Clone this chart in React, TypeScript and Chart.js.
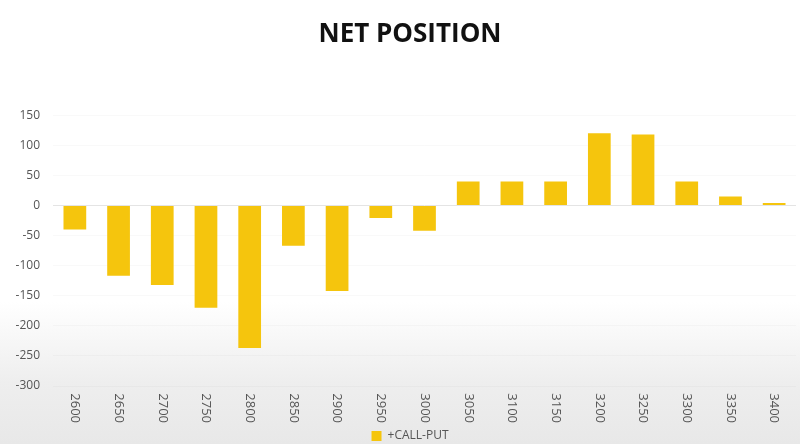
import React, { useEffect, useRef } from "react";
import { Chart, registerables } from "chart.js";

Chart.register(...registerables);

const strikes = ["2600", "2650", "2700", "2750", "2800", "2850", "2900", "2950", "3000", "3050", "3100", "3150", "3200", "3250", "3300", "3350", "3400"];
const callMinusPut = [-40, -117, -132, -170, -237, -67, -142, -21, -42, 40, 40, 40, 120, 118, 40, 15, 4];
const yMin = -300;
const yMax = 150;
const yStep = 50;

const FONT = "'Open Sans'";
const Y_FONT_SIZE = 12;

function widestYLabel(): number {
  const c = document.createElement("canvas");
  const ctx = c.getContext("2d");
  if (!ctx) return 26;
  ctx.font = `normal ${Y_FONT_SIZE}px ${FONT}`;
  let w = 0;
  for (let v = yMin; v <= yMax; v += yStep) {
    w = Math.max(w, ctx.measureText(String(v)).width);
  }
  return w;
}

export default function App() {
  const ref = useRef<HTMLCanvasElement | null>(null);

  useEffect(() => {
    if (!ref.current) return;
    const widest = widestYLabel();
    const chart = new Chart(ref.current, {
      type: "bar",
      data: {
        labels: strikes,
        datasets: [
          {
            label: "+CALL-PUT",
            data: callMinusPut,
            backgroundColor: "#F5C50D",
            borderWidth: 0,
            categoryPercentage: 1,
            barPercentage: 0.52,
          },
        ],
      },
      options: {
        animation: false,
        responsive: true,
        maintainAspectRatio: false,
        layout: { padding: { left: 24, right: 4, top: 0, bottom: -8 } },
        plugins: {
          title: {
            display: true,
            text: "NET POSITION",
            color: "#111",
            font: { family: FONT, size: 26, weight: "bold" },
            padding: { top: 19, bottom: 65 },
          },
          legend: {
            position: "bottom",
            labels: {
              color: "#555",
              font: { family: FONT, size: 12 },
              boxWidth: 10,
              boxHeight: 10,
              padding: 4,
            },
          },
          tooltip: { enabled: false },
        },
        scales: {
          x: {
            grid: { display: false, drawTicks: false },
            border: { display: false },
            ticks: {
              autoSkip: false,
              minRotation: -90,
              maxRotation: -90,
              padding: 37,
              color: "#555",
              font: { family: FONT, size: 13 },
            },
            afterFit: (scale: any) => {
              scale.height = 40;
            },
          },
          y: {
            min: yMin,
            max: yMax,
            grid: {
              drawTicks: false,
              color: (ctx: any) => (ctx.tick && ctx.tick.value === 0 ? "#e4e4e4" : "rgba(0,0,0,0.025)"),
            },
            border: { display: false },
            ticks: {
              stepSize: yStep,
              mirror: true,
              crossAlign: "far",
              padding: -13 - widest,
              color: "#555",
              font: { family: FONT, size: Y_FONT_SIZE },
            },
            afterFit: (scale: any) => {
              scale.width = 29;
            },
          },
        },
      },
    });
    return () => chart.destroy();
  }, []);

  return (
    <div
      style={{
        position: "fixed",
        left: 0,
        top: 0,
        width: 800,
        height: 444,
        background: "linear-gradient(to bottom, #ffffff 0%, #ffffff 68%, #eeeeee 86%, #e8e8e8 100%)",
      }}
    >
      <canvas ref={ref} />
    </div>
  );
}
